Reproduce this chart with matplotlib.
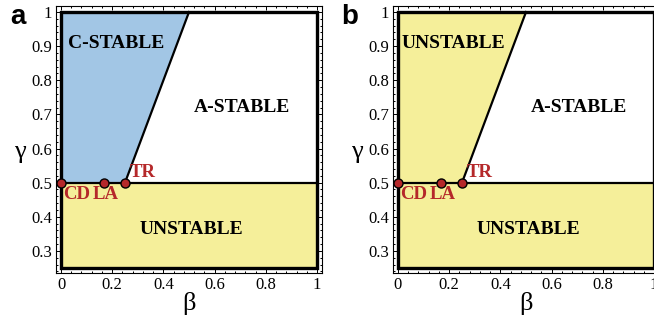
import matplotlib.pyplot as plt
import numpy as np
from matplotlib.patches import Polygon, Rectangle
from matplotlib.ticker import MultipleLocator

# stability diagram of the Newmark scheme (beta, gamma)
beta_range = [0.0, 1.0]
gamma_range = [0.25, 1.0]
gamma_split = 0.5
# boundary gamma = 2*beta for gamma >= 1/2 : corner points of the line
boundary_beta = [0.25, 0.5]
boundary_gamma = [0.5, 1.0]

method_names = ['CD', 'LA', 'TR']
method_beta = [0.0, 1 / 6, 0.25]
method_gamma = [0.5, 0.5, 0.5]
method_label_pos = [(0.008, 0.466), (0.122, 0.466), (0.27, 0.53)]

panel_letters = ['a', 'b']
panel_letter_x = [10, 341]
upper_left_labels = ['C-STABLE', 'UNSTABLE']
upper_left_colors = ['#a2c6e5', '#f5ef9a']
yellow = '#f5ef9a'
red = '#b5282a'

plt.rcParams['font.family'] = ['Liberation Serif', 'DejaVu Serif']

fig = plt.figure(figsize=(6.54, 3.22), dpi=100)

W, H = 654.0, 322.0
frame_pos = [(56, 6, 266, 267), (393, 6, 266, 267)]  # px: left, top, width, height
pad_x = 5 / 256
pad_top = 6 / 340
pad_bot = 5 / 340

for i, (l, t, w, h) in enumerate(frame_pos):
    ax = fig.add_axes([l / W, 1 - (t + h) / H, w / W, h / H])
    ax.set_xlim(beta_range[0] - pad_x, beta_range[1] + pad_x)
    ax.set_ylim(gamma_range[0] - pad_bot, gamma_range[1] + pad_top)

    # regions
    ax.add_patch(Rectangle((beta_range[0], gamma_range[0]), beta_range[1] - beta_range[0],
                           gamma_split - gamma_range[0], facecolor=yellow, edgecolor='none', zorder=1))
    ax.add_patch(Polygon([(beta_range[0], gamma_split), (boundary_beta[0], boundary_gamma[0]),
                          (boundary_beta[1], boundary_gamma[1]), (beta_range[0], gamma_range[1])],
                         closed=True, facecolor=upper_left_colors[i], edgecolor='none', zorder=1))

    # boundaries
    ax.plot(beta_range, [gamma_split, gamma_split], color='black', lw=1.6, zorder=3)
    ax.plot(boundary_beta, boundary_gamma, color='black', lw=1.6, zorder=3)
    ax.add_patch(Rectangle((beta_range[0], gamma_range[0]), beta_range[1] - beta_range[0],
                           gamma_range[1] - gamma_range[0], facecolor='none', edgecolor='black',
                           lw=2.4, zorder=4, joinstyle='miter'))

    # methods
    ax.plot(method_beta, method_gamma, 'o', ms=6.5, mfc=red, mec='black', mew=1.0, zorder=6, clip_on=False)
    for name, (px, py) in zip(method_names, method_label_pos):
        ax.text(px, py, name, color=red, fontsize=13.5, fontweight='bold', ha='left', va='center', zorder=7)

    # region labels
    ax.text(0.215, 0.908, upper_left_labels[i], fontsize=14, fontweight='bold', ha='center', va='center', zorder=7)
    ax.text(0.705, 0.72, 'A-STABLE', fontsize=14, fontweight='bold', ha='center', va='center', zorder=7)
    ax.text(0.51, 0.363, 'UNSTABLE', fontsize=14, fontweight='bold', ha='center', va='center', zorder=7)

    # frame and ticks
    for s in ax.spines.values():
        s.set_linewidth(0.8)
    ax.xaxis.set_minor_locator(MultipleLocator(0.04))
    ax.yaxis.set_minor_locator(MultipleLocator(0.02))
    ax.set_xticks(np.arange(0, 1.01, 0.2))
    ax.set_xticklabels(['0', '0.2', '0.4', '0.6', '0.8', '1'])
    ax.set_yticks(np.arange(0.3, 1.01, 0.1))
    ax.set_yticklabels(['0.3', '0.4', '0.5', '0.6', '0.7', '0.8', '0.9', '1'])
    ax.tick_params(which='both', direction='in', top=True, right=True, width=0.7, labelsize=12, pad=3)
    ax.tick_params(which='major', length=3)
    ax.tick_params(which='minor', length=1.5)

    ax.set_xlabel('β', fontsize=19, labelpad=-1)
    ax.set_ylabel('γ', fontsize=19, rotation=0, va='center')
    ax.yaxis.set_label_coords(-0.135, 0.455)

    fig.text(panel_letter_x[i] / W, 1 - 17 / H, panel_letters[i], fontsize=20, fontweight='bold',
             family='Liberation Sans', ha='left', va='center')

fig.savefig('out.png', dpi=100)
